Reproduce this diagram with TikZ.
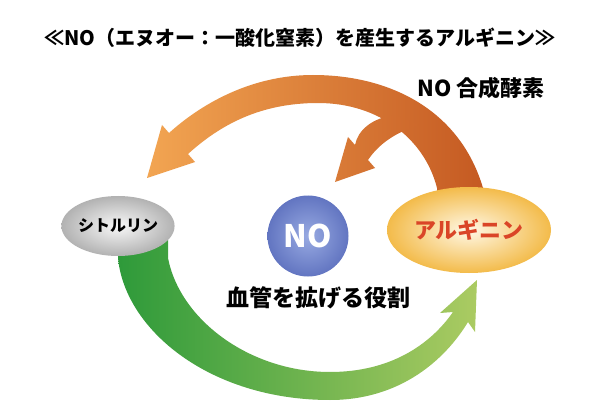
\documentclass[tikz,border=0pt]{standalone}
\usepackage{fontspec}
\setmainfont{Noto Sans CJK JP}
\usetikzlibrary{shapes.geometric}
\definecolor{OrgL}{HTML}{F2A552}
\definecolor{OrgR}{HTML}{C55A22}
\definecolor{OrgM}{HTML}{D97B37}
\definecolor{OrgN}{HTML}{CE682B}
\definecolor{GrnL}{HTML}{2E9A3A}
\definecolor{GrnR}{HTML}{ABCB62}
\definecolor{ArgRed}{HTML}{DA4527}
\definecolor{ArgIn}{HTML}{FFF8E6}
\definecolor{ArgOut}{HTML}{F3BB4A}
\definecolor{CitIn}{HTML}{F8F8F8}
\definecolor{CitOut}{HTML}{B2B2B2}
\definecolor{BallIn}{HTML}{98AAE2}
\definecolor{BallOut}{HTML}{6275C1}

\begin{document}
\begin{tikzpicture}[x=1pt,y=-1pt,
blob/.style={ellipse,inner sep=0pt,font=\bfseries},
lbl/.style={font=\bfseries,text=black,inner sep=0pt}]
\useasboundingbox[fill=white] (0,0) rectangle (600,417);
\node[lbl,font=\bfseries\fontsize{20}{24}\selectfont] (title) at (300,38) {≪NO（エヌオー：一酸化窒素）を産生するアルギニン≫};
\node[lbl,font=\bfseries\fontsize{22}{26}\selectfont] (nos) at (481,88) {NO 合成酵素};
\coordinate (tipA) at (147,178);
\coordinate (tipB) at (335,182);
\coordinate (tipC) at (477,280);
\shade[left color=OrgL,right color=OrgR]
  (483,200) -- (483,188) .. controls (460,110) and (390,75) .. (313,75)
  .. controls (250,75) and (200,105) .. (169,133) -- (162,125) -- (tipA) -- (195,162) -- (188,154)
  .. controls (220,125) and (260,103) .. (318,103) .. controls (380,103) and (425,140) .. (437,188)
  -- (437,200) -- cycle;
\shade[left color=OrgM,right color=OrgN]
  (395,115) .. controls (372,118) and (358,130) .. (355,145) -- (348,137) -- (tipB) -- (375,168) -- (368,160)
  .. controls (378,145) and (395,132) .. (420,125) -- cycle;
\shade[left color=GrnL,right color=GrnR]
  (118,240) -- (118,258) .. controls (125,330) and (210,400) .. (330,400)
  .. controls (400,400) and (445,360) .. (468,322) -- (475,332) -- (tipC) -- (440,313) -- (453,312)
  .. controls (430,345) and (390,372) .. (330,372) .. controls (250,372) and (180,320) .. (168,258)
  -- (168,240) -- cycle;
\node[blob,minimum width=104pt,minimum height=60pt,inner color=CitIn,outer color=CitOut,
  font=\bfseries\fontsize{16}{18}\selectfont] (cit) at (118,226) {シトルリン};
\node[blob,circle,minimum size=81pt,inner color=BallIn,outer color=BallOut,text=white,
  font=\bfseries\fontsize{31}{33}\selectfont] (no) at (308,236) {NO};
\node[blob,minimum width=164pt,minimum height=86pt,inner color=ArgIn,outer color=ArgOut,
  text=ArgRed,font=\bfseries\fontsize{22}{24}\selectfont] (arg) at (469,230) {アルギニン};
\node[lbl,font=\bfseries\fontsize{23}{26}\selectfont] (role) at (318,298) {血管を拡げる役割};
\end{tikzpicture}
\end{document}
